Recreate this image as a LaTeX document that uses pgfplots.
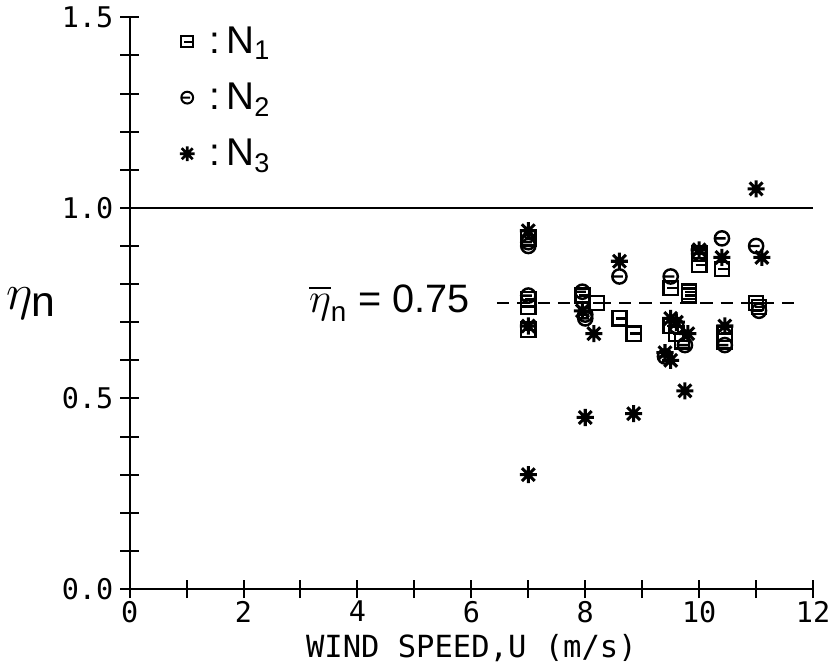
\documentclass[border=0pt]{standalone}
\usepackage{fontspec}
\usepackage{amsmath}
\usepackage{pgfplots}
\pgfplotsset{compat=1.18}
\setmainfont{Liberation Sans}
\newfontfamily\mono{DejaVu Sans Mono}

% plotter-style marks: boxed dash, circled dash, eight-arm star
\pgfdeclareplotmark{boxdash}{%
  \pgfpathrectangle{\pgfpoint{-\pgfplotmarksize}{-\pgfplotmarksize}}{\pgfpoint{2\pgfplotmarksize}{2\pgfplotmarksize}}%
  \pgfpathmoveto{\pgfpoint{-0.5\pgfplotmarksize}{0pt}}%
  \pgfpathlineto{\pgfpoint{\pgfplotmarksize}{0pt}}%
  \pgfusepathqstroke}
\pgfdeclareplotmark{circdash}{%
  \pgfpathcircle{\pgfpointorigin}{\pgfplotmarksize}%
  \pgfpathmoveto{\pgfpoint{-\pgfplotmarksize}{0pt}}%
  \pgfpathlineto{\pgfpoint{0.5\pgfplotmarksize}{0pt}}%
  \pgfusepathqstroke}
\pgfdeclareplotmark{star8}{%
  \pgfpathmoveto{\pgfpoint{-\pgfplotmarksize}{0pt}}\pgfpathlineto{\pgfpoint{\pgfplotmarksize}{0pt}}%
  \pgfpathmoveto{\pgfpoint{0pt}{-\pgfplotmarksize}}\pgfpathlineto{\pgfpoint{0pt}{\pgfplotmarksize}}%
  \pgfpathmoveto{\pgfpoint{-0.75\pgfplotmarksize}{-0.75\pgfplotmarksize}}\pgfpathlineto{\pgfpoint{0.75\pgfplotmarksize}{0.75\pgfplotmarksize}}%
  \pgfpathmoveto{\pgfpoint{-0.75\pgfplotmarksize}{0.75\pgfplotmarksize}}\pgfpathlineto{\pgfpoint{0.75\pgfplotmarksize}{-0.75\pgfplotmarksize}}%
  \pgfusepathqstroke}

\begin{document}
\begin{tikzpicture}
\begin{axis}[
  scale only axis,
  width=336pt, height=281pt,
  xmin=0, xmax=12, ymin=0, ymax=1.5,
  axis lines=left,
  axis line style={-, line width=1pt},
  xtick={0,1,2,3,4,5,6,7,8,9,10,11,12},
  xticklabels={0,,2,,4,,6,,8,,10,,12},
  ytick={0,0.1,0.2,0.3,0.4,0.5,0.6,0.7,0.8,0.9,1.0,1.1,1.2,1.3,1.4,1.5},
  yticklabels={0.0,,,,,0.5,,,,,1.0,,,,,1.5},
  tick align=center,
  major tick length=9pt,
  tick style={line width=1pt, black},
  ticklabel style={font=\mono\fontsize{14}{16}\selectfont},
  xticklabel style={yshift=2pt},
  xlabel={WIND SPEED,U (m/s)},
  xlabel style={font=\mono\fontsize{15}{17}\selectfont, yshift=1pt},
  ylabel={$\eta_{\text{n}}$},
  ylabel style={rotate=-90, font=\fontsize{30}{32}\selectfont, xshift=4pt},
  legend style={at={(rel axis cs:0.07,0.995)}, anchor=north west, draw=none, fill=none,
    font=\fontsize{19}{21}\selectfont, row sep=9pt, inner sep=1pt},
  legend cell align=left,
  clip=false,
]
\addplot[only marks, mark=boxdash, mark size=3.5pt, line width=1.2pt,
  legend image post style={mark size=2.9pt, line width=1pt}] coordinates {
  (7.0,0.92) (7.0,0.76) (7.0,0.74) (7.0,0.68)
  (7.95,0.77) (8.2,0.75) (8.6,0.71) (8.85,0.67)
  (9.5,0.79) (9.5,0.69) (9.6,0.67) (9.7,0.65)
  (9.82,0.78) (9.82,0.77) (10.0,0.88) (10.0,0.85)
  (10.4,0.84) (10.45,0.67) (10.45,0.65) (11.0,0.75) (11.05,0.74)
};
\addlegendentry{\;:\,N\textsubscript{1}}
\addplot[only marks, mark=circdash, mark size=3.5pt, line width=1.2pt,
  legend image post style={mark size=2.9pt, line width=1pt}] coordinates {
  (7.0,0.90) (7.0,0.91) (7.0,0.77)
  (7.95,0.78) (8.0,0.72) (8.0,0.71) (8.6,0.82)
  (9.5,0.82) (9.4,0.61) (9.6,0.69) (9.75,0.64)
  (10.0,0.88) (10.4,0.92) (10.45,0.64) (11.0,0.90) (11.05,0.73)
};
\addlegendentry{\;:\,N\textsubscript{2}}
\addplot[only marks, mark=star8, mark size=4.2pt, line width=1.5pt,
  legend image post style={mark size=3.6pt, line width=1.3pt}] coordinates {
  (7.0,0.94) (7.0,0.69) (7.0,0.30)
  (7.95,0.73) (8.15,0.67) (8.0,0.45) (8.6,0.86) (8.85,0.46)
  (9.4,0.62) (9.5,0.60) (9.5,0.71) (9.6,0.70) (9.75,0.52) (9.8,0.67)
  (10.0,0.89) (10.4,0.87) (10.45,0.69) (11.0,1.05) (11.1,0.87)
};
\addlegendentry{\;:\,N\textsubscript{3}}
% reference level and mean
\addplot[line width=1pt, forget plot] coordinates {(0,1) (12,1)};
\addplot[line width=0.9pt, dash pattern=on 6pt off 4pt, forget plot] coordinates {(6.45,0.75) (11.8,0.75)};
\node[anchor=east, font=\fontsize{19.5}{21}\selectfont] at (axis cs:6.1,0.75)
  {$\overline{\eta}_{\text{n}}$ = 0.75};
\end{axis}
\end{tikzpicture}
\end{document}
